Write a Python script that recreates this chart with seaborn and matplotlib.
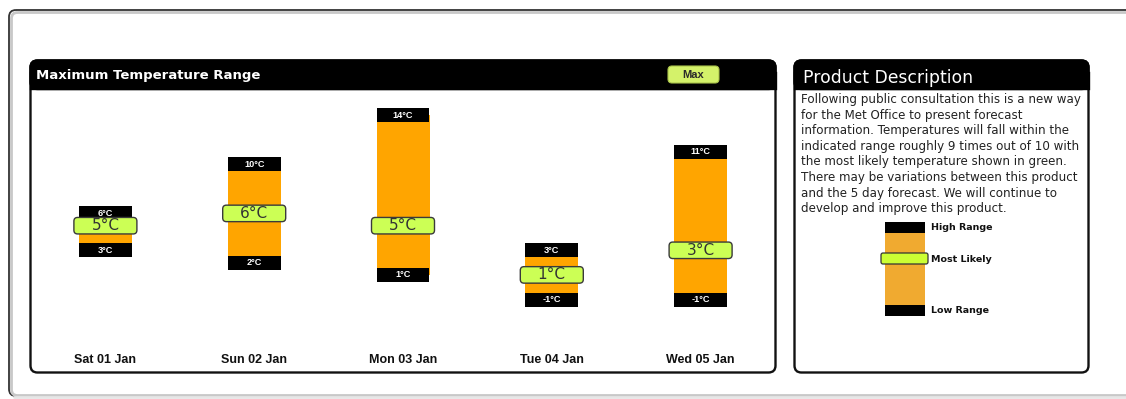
import matplotlib
matplotlib.use("Agg")
import matplotlib.pyplot as plt
from matplotlib.patches import FancyBboxPatch, Rectangle
import seaborn as sns

# Forecast values (°C)
days = ["Sat 01 Jan", "Sun 02 Jan", "Mon 03 Jan", "Tue 04 Jan", "Wed 05 Jan"]
high_range = [6, 10, 14, 3, 11]
low_range = [3, 2, 1, -1, -1]
most_likely = [5, 6, 5, 1, 3]

chart_title = "Maximum Temperature Range"
toggle_label = "Max"
panel_title = "Product Description"
description = [
    "Following public consultation this is a new way",
    "for the Met Office to present forecast",
    "information. Temperatures will fall within the",
    "indicated range roughly 9 times out of 10 with",
    "the most likely temperature shown in green.",
    "There may be variations between this product",
    "and the 5 day forecast. We will continue to",
    "develop and improve this product.",
]
key_labels = ["High Range", "Most Likely", "Low Range"]

ORANGE = "#FFA500"
KEY_ORANGE = "#F0AA30"
LIME = "#CCFF55"
BOLD_SANS = ["Liberation Sans", "DejaVu Sans"]

sns.set_theme(style="white")
plt.rcParams["font.family"] = ["DejaVu Sans"]

W, H = 1126, 399
fig = plt.figure(figsize=(W / 100, H / 100), dpi=100)
fig.patch.set_facecolor("white")

# Background layer in pixel units for the page frame and panels
bg = fig.add_axes([0, 0, 1, 1])
bg.set_xlim(0, W)
bg.set_ylim(H, 0)
bg.axis("off")


def rounded(ax, x, y, w, h, r, **kw):
    p = FancyBboxPatch((x, y), w, h, boxstyle=f"round,pad=0,rounding_size={r}", **kw)
    ax.add_patch(p)
    return p


# page frame
rounded(bg, 9, 10, 1140, 386, 7, fc="none", ec="#333333", lw=1.3)
rounded(bg, 11.5, 12.5, 1140, 383, 6, fc="none", ec="#c8c8c8", lw=2.0)
bg.plot([14, W], [396.5, 396.5], color="#e6e6e6", lw=2, zorder=1)


def panel(x0, x1, y0, y1, head_bottom):
    rounded(bg, x0, y0, x1 - x0, y1 - y0, 7, fc="white", ec="#111111", lw=1.7, zorder=2)
    rounded(bg, x0, y0, x1 - x0, head_bottom - y0, 7, fc="black", ec="black", lw=1.7, zorder=3)
    bg.add_patch(Rectangle((x0, y0 + 12), x1 - x0, head_bottom - y0 - 12, fc="black", ec="black", lw=1.7, zorder=3))


panel(30.5, 775.5, 60.5, 372.5, 89)
panel(794.5, 1088.5, 60.5, 372.5, 89)

bg.text(36, 76, chart_title, color="white", fontsize=9.5, fontweight="bold", va="center", zorder=4)
rounded(bg, 668, 66, 51, 17, 4, fc="#D4F26A", ec="#A9C24A", lw=0.8, zorder=4)
bg.text(693.5, 74.5, toggle_label, color="#2a2a2a", fontsize=8, fontweight="bold",
        family=BOLD_SANS, ha="center", va="center", zorder=5)

bg.text(803, 78, panel_title, color="white", fontsize=12.4, va="center", zorder=4)
for i, line in enumerate(description):
    bg.text(801, 99.5 + 15.6 * i, line, color="#222222", fontsize=8.6, va="center", zorder=4)

# key for the range bars
bg.add_patch(Rectangle((885, 222), 40, 11, fc="black", lw=0, zorder=4))
bg.add_patch(Rectangle((885, 233), 40, 72, fc=KEY_ORANGE, lw=0, zorder=4))
bg.add_patch(Rectangle((885, 305), 40, 11, fc="black", lw=0, zorder=4))
rounded(bg, 881, 253, 47, 11, 2, fc="#CCFF33", ec="#333333", lw=0.9, zorder=5)
for label, yy in zip(key_labels, [227.5, 259, 310.5]):
    bg.text(931, yy, label, color="#111111", fontsize=6.8, fontweight="bold", va="center", zorder=5)

# Chart axes
PX_PER_DEG = 12.3
ZERO_PX = 287.2
ax_top, ax_bot = 89, 372
ax = fig.add_axes([31 / W, (H - ax_bot) / H, 744 / W, (ax_bot - ax_top) / H])
ax.patch.set_alpha(0)
ax.set_zorder(5)

bar_w = 53 / 148.8
spans = [h - l for h, l in zip(high_range, low_range)]
sns.barplot(x=days, y=spans, bottom=low_range, order=days, color=ORANGE, saturation=1,
            width=bar_w, errorbar=None, linewidth=0, ax=ax, zorder=2)

box_h = 14 / PX_PER_DEG
for i, (hi, lo, ml) in enumerate(zip(high_range, low_range, most_likely)):
    ax.bar([i, i], [box_h, box_h], bottom=[hi - box_h / 2, lo - box_h / 2],
           width=bar_w, color="black", linewidth=0, zorder=3)
    for v in (hi, lo):
        ax.text(i, v, f"{v}°C", color="white", fontsize=6.6, fontweight="bold",
                family=BOLD_SANS, ha="center", va="center", zorder=4)
    gw, gh = 63 / 148.8, 16.5 / PX_PER_DEG
    rounded(ax, i - gw / 2, ml - gh / 2, gw, gh, 0.025, fc=LIME, ec="#3a3a3a", lw=1.0,
            zorder=5, mutation_aspect=148.8 / PX_PER_DEG)
    ax.text(i, ml, f"{ml}°C", color="#333333", fontsize=11, ha="center", va="center", zorder=6)

ax.set_xlim(-0.5, 4.5)
ax.set_ylim((ZERO_PX - ax_bot) / PX_PER_DEG, (ZERO_PX - ax_top) / PX_PER_DEG)
ax.set_yticks([])
ax.set_xlabel("")
ax.set_ylabel("")
ax.set_xticks(range(len(days)))
ax.set_xticklabels(days, fontsize=9, fontweight="bold", family=BOLD_SANS, color="#111111")
ax.tick_params(axis="x", length=0, pad=-8.6)
for lbl in ax.get_xticklabels():
    lbl.set_va("center")
sns.despine(ax=ax, left=True, bottom=True)

fig.savefig("out.png", dpi=100)
